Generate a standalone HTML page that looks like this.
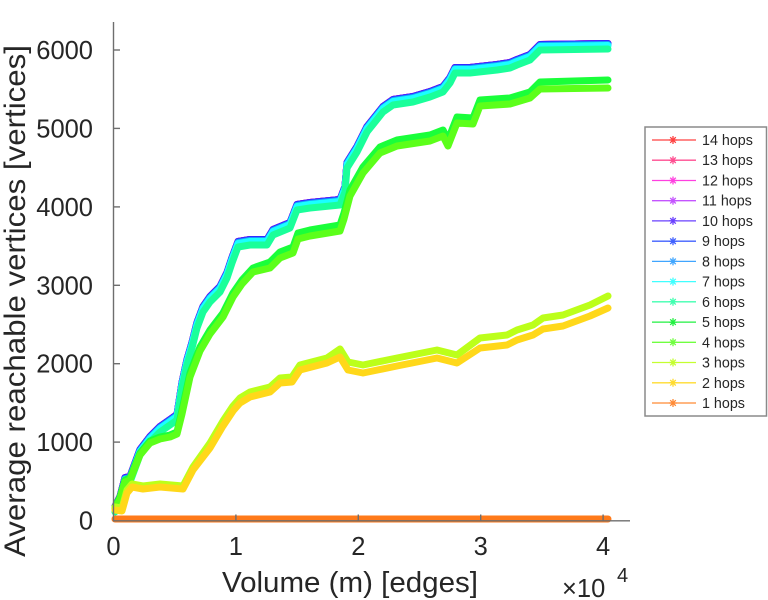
<!DOCTYPE html>
<html><head><meta charset="utf-8"><style>
html,body{margin:0;padding:0;background:#fff;}
svg{display:block;}
text{font-family:"Liberation Sans",Arial,sans-serif;fill:#262626;}
</style></head><body>
<svg width="768" height="600" viewBox="0 0 768 600" xmlns="http://www.w3.org/2000/svg">
<rect width="768" height="600" fill="#fff"/>
<defs>
<polyline id="T" points="115,505 120,495 125,476 130,475 140,448 150,435 160,425 170,418 177,413 182,381 187,358 192,341 197,321 203,305 210,295 220,285 227,271 232,256 238,240 250,238 267,238 273,228 290,221 297,203 310,201 340,198 345,185 347,161 357,145 367,125 383,105 393,98 413,95 430,90 443,85 450,76 455,66 470,66 497,63 510,61 517,58 530,53 540,43 608,42"/>
</defs>
<g fill="none" stroke-width="7" stroke-linejoin="round" stroke-linecap="round">
<use href="#T" stroke="#ff1a1a" transform="translate(0,1.5)"/>
<use href="#T" stroke="#ff1a75" transform="translate(0,1.5)"/>
<use href="#T" stroke="#ff1adc" transform="translate(0,1.5)"/>
<use href="#T" stroke="#b81aff" transform="translate(0,1.5)"/>
<use href="#T" stroke="#4d1aff" transform="translate(0,1.5)"/>
<use href="#T" stroke="#1a3aff" transform="translate(0,2)"/>
<use href="#T" stroke="#1a96ff" transform="translate(0,2.5)"/>
<use href="#T" stroke="#1affff" transform="translate(0,3.5)"/>
<use href="#T" stroke="#1aff9a" transform="translate(0,7)"/>
<polyline stroke="#1aff3a" points="115,507 120,497 125,480 130,478 140,453 150,441 160,437 170,435 177,432 182,410 190,373 200,347 210,330 223,313 233,293 242,280 253,268 270,262 280,252 293,247 298,233 310,230 340,225 344,213 350,190 363,167 380,147 397,140 430,135 443,130 448,140 457,117 473,118 480,100 510,98 530,92 540,82 608,80"/>
<polyline stroke="#5cff1a" points="115,509 120,499 125,482 130,480 140,455 150,443 160,439 170,437 177,434 182,414 190,377 200,351 210,334 223,317 233,297 242,284 253,272 270,268 280,258 293,253 298,239 310,236 340,231 344,219 350,196 363,173 380,153 397,146 430,141 443,136 448,146 457,123 473,124 480,106 510,104 530,98 540,89 608,88"/>
<polyline stroke="#bcff1a" points="115,507 122,508 127,490 132,484 143,486 160,484 183,486 193,467 210,443 223,421 233,406 240,398 250,392 270,387 280,378 292,377 300,365 327,358 340,349 348,362 363,365 397,358 437,350 457,355 480,338 507,335 517,330 533,325 543,318 563,315 590,305 608,296"/>
<polyline stroke="#ffd81a" points="115,510 122,511 127,493 132,487 143,489 160,487 183,489 193,470 210,448 223,426 233,411 240,403 250,397 270,392 280,383 292,382 300,370 327,363 340,357 348,370 363,373 397,366 437,358 457,363 480,348 507,345 517,340 533,335 543,329 563,326 590,316 608,308"/>
<polyline stroke="#ff7a1a" points="115,519 608,519"/>
</g>
<!-- axes -->
<g stroke="#6e6e6e" stroke-width="1.4" fill="none">
<line x1="113.5" y1="22" x2="113.5" y2="521"/>
<line x1="113" y1="520.8" x2="630" y2="520.8"/>
<line x1="113.5" y1="50" x2="120" y2="50"/>
<line x1="113.5" y1="128.4" x2="120" y2="128.4"/>
<line x1="113.5" y1="206.9" x2="120" y2="206.9"/>
<line x1="113.5" y1="285.3" x2="120" y2="285.3"/>
<line x1="113.5" y1="363.7" x2="120" y2="363.7"/>
<line x1="113.5" y1="442.1" x2="120" y2="442.1"/>
<line x1="235.9" y1="521" x2="235.9" y2="514.5"/>
<line x1="358.3" y1="521" x2="358.3" y2="514.5"/>
<line x1="480.7" y1="521" x2="480.7" y2="514.5"/>
<line x1="603.1" y1="521" x2="603.1" y2="514.5"/>
</g>
<g font-size="25.5" text-anchor="end">
<text x="93" y="59">6000</text>
<text x="93" y="137.4">5000</text>
<text x="93" y="215.9">4000</text>
<text x="93" y="294.3">3000</text>
<text x="93" y="372.7">2000</text>
<text x="93" y="451.1">1000</text>
<text x="93" y="529.5">0</text>
</g>
<g font-size="25.5" text-anchor="middle">
<text x="113.5" y="555">0</text>
<text x="235.9" y="555">1</text>
<text x="358.3" y="555">2</text>
<text x="480.7" y="555">3</text>
<text x="603.1" y="555">4</text>
</g>
<text x="562" y="597" font-size="25.5">×10</text>
<text x="617" y="582" font-size="20">4</text>
<text x="222" y="592" font-size="29" textLength="256" lengthAdjust="spacingAndGlyphs">Volume (m) [edges]</text>
<text transform="translate(25,557) rotate(-90)" x="0" y="0" font-size="30" textLength="512" lengthAdjust="spacingAndGlyphs">Average reachable vertices [vertices]</text>
<!-- legend -->
<rect x="645" y="127" width="121.5" height="289" fill="#fff" stroke="#8a8a8a" stroke-width="1.5"/>
<g stroke-width="1.3" fill="none">
<g stroke="#ff4040"><line x1="652" y1="140" x2="696" y2="140"/><path d="M673 136v8M669 140h8M670.2 137.2l5.6 5.6M675.8 137.2l-5.6 5.6"/></g>
<g stroke="#ff4d90"><line x1="652" y1="160.2" x2="696" y2="160.2"/><path d="M673 156.2v8M669 160.2h8M670.2 157.4l5.6 5.6M675.8 157.4l-5.6 5.6"/></g>
<g stroke="#ff40e0"><line x1="652" y1="180.5" x2="696" y2="180.5"/><path d="M673 176.5v8M669 180.5h8M670.2 177.7l5.6 5.6M675.8 177.7l-5.6 5.6"/></g>
<g stroke="#c455ff"><line x1="652" y1="200.7" x2="696" y2="200.7"/><path d="M673 196.7v8M669 200.7h8M670.2 197.9l5.6 5.6M675.8 197.9l-5.6 5.6"/></g>
<g stroke="#6a40ff"><line x1="652" y1="220.9" x2="696" y2="220.9"/><path d="M673 216.9v8M669 220.9h8M670.2 218.1l5.6 5.6M675.8 218.1l-5.6 5.6"/></g>
<g stroke="#4060ff"><line x1="652" y1="241.2" x2="696" y2="241.2"/><path d="M673 237.2v8M669 241.2h8M670.2 238.4l5.6 5.6M675.8 238.4l-5.6 5.6"/></g>
<g stroke="#40a6ff"><line x1="652" y1="261.4" x2="696" y2="261.4"/><path d="M673 257.4v8M669 261.4h8M670.2 258.6l5.6 5.6M675.8 258.6l-5.6 5.6"/></g>
<g stroke="#40ffff"><line x1="652" y1="281.6" x2="696" y2="281.6"/><path d="M673 277.6v8M669 281.6h8M670.2 278.8l5.6 5.6M675.8 278.8l-5.6 5.6"/></g>
<g stroke="#40ffb0"><line x1="652" y1="301.8" x2="696" y2="301.8"/><path d="M673 297.8v8M669 301.8h8M670.2 299l5.6 5.6M675.8 299l-5.6 5.6"/></g>
<g stroke="#20f040"><line x1="652" y1="322.1" x2="696" y2="322.1"/><path d="M673 318.1v8M669 322.1h8M670.2 319.3l5.6 5.6M675.8 319.3l-5.6 5.6"/></g>
<g stroke="#70ff40"><line x1="652" y1="342.3" x2="696" y2="342.3"/><path d="M673 338.3v8M669 342.3h8M670.2 339.5l5.6 5.6M675.8 339.5l-5.6 5.6"/></g>
<g stroke="#c4ff30"><line x1="652" y1="362.5" x2="696" y2="362.5"/><path d="M673 358.5v8M669 362.5h8M670.2 359.7l5.6 5.6M675.8 359.7l-5.6 5.6"/></g>
<g stroke="#ffdc30"><line x1="652" y1="382.8" x2="696" y2="382.8"/><path d="M673 378.8v8M669 382.8h8M670.2 380l5.6 5.6M675.8 380l-5.6 5.6"/></g>
<g stroke="#ff8a35"><line x1="652" y1="403" x2="696" y2="403"/><path d="M673 399v8M669 403h8M670.2 400.2l5.6 5.6M675.8 400.2l-5.6 5.6"/></g>
</g>
<g font-size="14.3">
<text x="702" y="145">14 hops</text>
<text x="702" y="165.2">13 hops</text>
<text x="702" y="185.5">12 hops</text>
<text x="702" y="205.7">11 hops</text>
<text x="702" y="225.9">10 hops</text>
<text x="702" y="246.2">9 hops</text>
<text x="702" y="266.4">8 hops</text>
<text x="702" y="286.6">7 hops</text>
<text x="702" y="306.8">6 hops</text>
<text x="702" y="327.1">5 hops</text>
<text x="702" y="347.3">4 hops</text>
<text x="702" y="367.5">3 hops</text>
<text x="702" y="387.8">2 hops</text>
<text x="702" y="408">1 hops</text>
</g>
</svg>
</body></html>
